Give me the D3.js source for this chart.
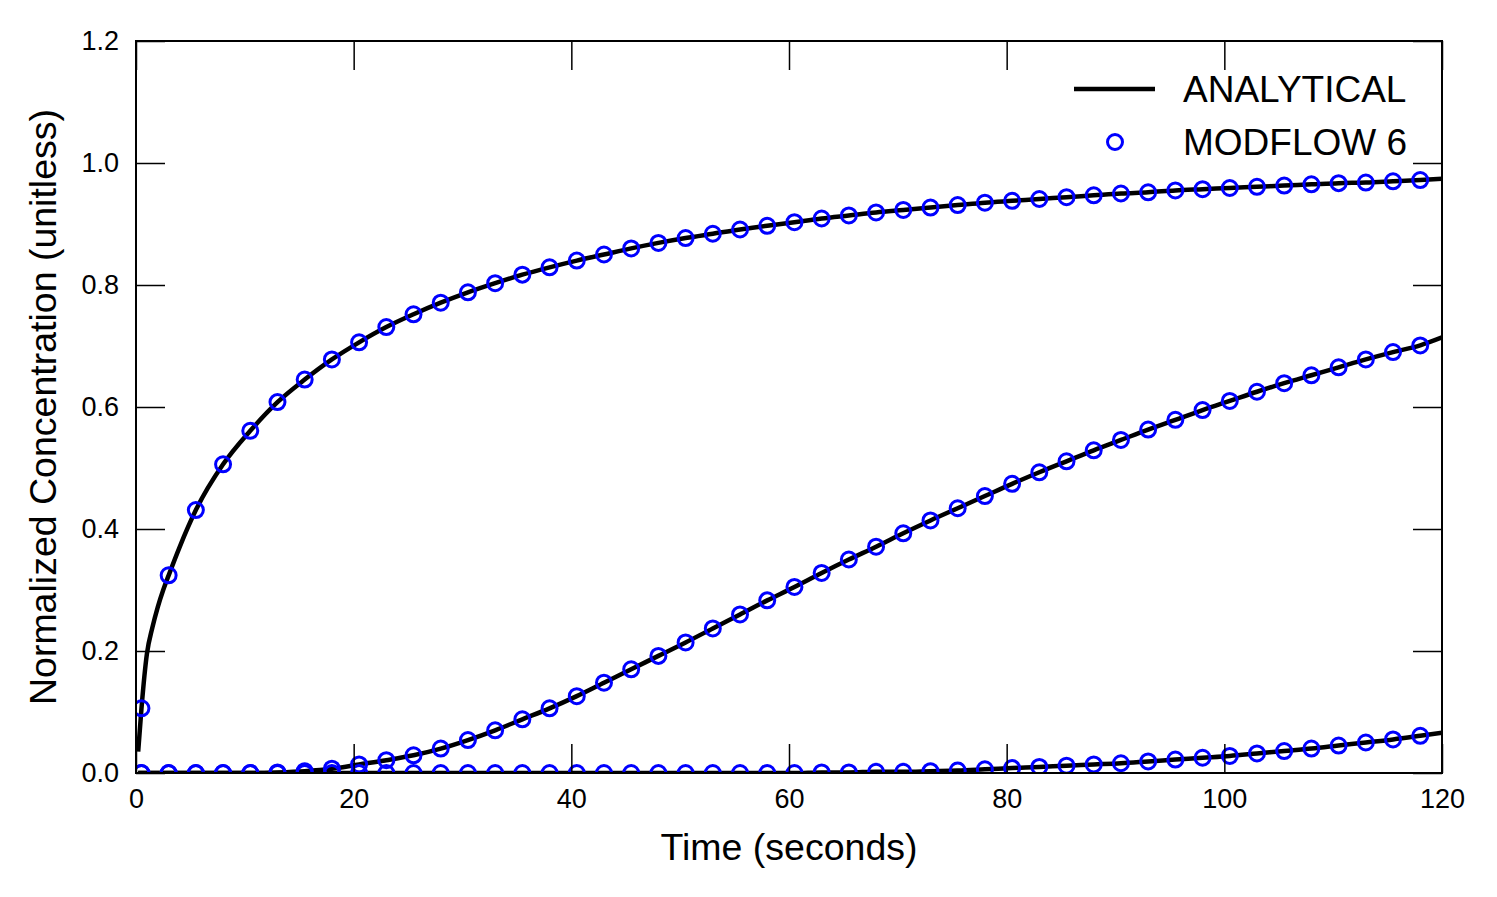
<!DOCTYPE html>
<html>
<head>
<meta charset="utf-8">
<script src="https://cdn.jsdelivr.net/npm/d3@7"></script>
<style>
  body { margin: 0; background: #fff; }
  svg { font-family: "Liberation Sans", Arial, sans-serif; }
</style>
</head>
<body>
<svg id="chart" width="1497" height="897"></svg>
<script>
// simulated output times (seconds)
var simTimes = [0.5, 3, 5.5, 8, 10.5, 13, 15.5, 18, 20.5, 23, 25.5, 28, 30.5, 33, 35.5, 38,
  40.5, 43, 45.5, 48, 50.5, 53, 55.5, 58, 60.5, 63, 65.5, 68, 70.5, 73, 75.5, 78,
  80.5, 83, 85.5, 88, 90.5, 93, 95.5, 98, 100.5, 103, 105.5, 108, 110.5, 113, 115.5, 118];

// MODFLOW 6 concentrations at three observation points
var sim1 = [0.106, 0.324, 0.431, 0.506, 0.561, 0.608, 0.645, 0.678, 0.706, 0.731, 0.752, 0.771,
  0.788, 0.803, 0.817, 0.829, 0.840, 0.850, 0.860, 0.869, 0.877, 0.884, 0.891, 0.897,
  0.903, 0.909, 0.914, 0.919, 0.923, 0.927, 0.931, 0.935, 0.938, 0.941, 0.944, 0.947,
  0.950, 0.952, 0.955, 0.957, 0.959, 0.961, 0.963, 0.965, 0.967, 0.968, 0.970, 0.972];
var sim2 = [0, 0, 0, 0, 0, 0.001, 0.003, 0.007, 0.014, 0.021, 0.029, 0.040,
  0.054, 0.070, 0.088, 0.106, 0.126, 0.148, 0.170, 0.192, 0.214, 0.237, 0.260, 0.283,
  0.305, 0.328, 0.350, 0.371, 0.393, 0.414, 0.434, 0.454, 0.474, 0.493, 0.511, 0.529,
  0.546, 0.563, 0.579, 0.595, 0.610, 0.625, 0.639, 0.652, 0.665, 0.678, 0.690, 0.701];
var sim3 = [0, 0, 0, 0, 0, 0, 0, 0, 0, 0, 0, 0,
  0, 0, 0, 0, 0, 0, 0, 0, 0, 0, 0, 0,
  0, 0.001, 0.001, 0.002, 0.002, 0.003, 0.004, 0.006, 0.008, 0.010, 0.012, 0.014,
  0.016, 0.019, 0.022, 0.025, 0.028, 0.032, 0.036, 0.040, 0.045, 0.050, 0.055, 0.061];

// analytical solution
var anaTimes = [0.2, 0.5, 1, 1.5, 2, 2.5, 3, 4, 5.5, 8, 10.5, 13, 15.5, 18, 20.5, 23, 25.5, 28,
  30.5, 33, 35.5, 38, 40.5, 43, 45.5, 48, 50.5, 53, 55.5, 58, 60.5, 63, 65.5, 68, 70.5, 73,
  75.5, 78, 80.5, 83, 85.5, 88, 90.5, 93, 95.5, 98, 100.5, 103, 105.5, 108, 110.5, 113,
  115.5, 118, 120];
var ana1 = [0.035, 0.105, 0.195, 0.238, 0.272, 0.30, 0.324, 0.37, 0.431, 0.506, 0.561, 0.608,
  0.645, 0.678, 0.706, 0.731, 0.752, 0.771, 0.788, 0.803, 0.817, 0.829, 0.840, 0.850,
  0.860, 0.869, 0.877, 0.884, 0.891, 0.897, 0.903, 0.909, 0.914, 0.919, 0.923, 0.927,
  0.931, 0.935, 0.938, 0.941, 0.944, 0.947, 0.950, 0.952, 0.955, 0.957, 0.959, 0.961,
  0.963, 0.965, 0.967, 0.968, 0.970, 0.972, 0.974];
var ana2 = [0, 0, 0, 0, 0, 0, 0, 0, 0, 0, 0, 0.001,
  0.003, 0.007, 0.014, 0.021, 0.029, 0.040, 0.054, 0.070, 0.088, 0.106, 0.126, 0.148,
  0.170, 0.192, 0.214, 0.237, 0.260, 0.283, 0.305, 0.328, 0.350, 0.371, 0.393, 0.414,
  0.434, 0.454, 0.474, 0.493, 0.511, 0.529, 0.546, 0.563, 0.579, 0.595, 0.610, 0.625,
  0.639, 0.652, 0.665, 0.678, 0.690, 0.701, 0.714];
var ana3 = [0, 0, 0, 0, 0, 0, 0, 0, 0, 0, 0, 0,
  0, 0, 0, 0, 0, 0, 0, 0, 0, 0, 0, 0,
  0, 0, 0, 0, 0, 0, 0, 0.001, 0.001, 0.002, 0.002, 0.003,
  0.004, 0.006, 0.008, 0.010, 0.012, 0.014, 0.016, 0.019, 0.022, 0.025, 0.028, 0.032,
  0.036, 0.040, 0.045, 0.050, 0.055, 0.061, 0.066];

var xTicks = [0, 20, 40, 60, 80, 100, 120];
var yTicks = [0, 0.2, 0.4, 0.6, 0.8, 1.0, 1.2];
var legendLabels = ["ANALYTICAL", "MODFLOW 6"];

var svg = d3.select("#chart");
var plotL = 136, plotR = 1442, plotT = 41, plotB = 773;
var tickLen = 29;

var x = d3.scaleLinear().domain([0, 120]).range([plotL, plotR]);
var y = d3.scaleLinear().domain([0, 1.2]).range([plotB, plotT]);

svg.append("clipPath").attr("id", "plotclip")
  .append("rect").attr("x", plotL).attr("y", plotT)
  .attr("width", plotR - plotL).attr("height", plotB - plotT);

var plot = svg.append("g").attr("clip-path", "url(#plotclip)");

var line = d3.line()
  .x(function(d){ return x(d[0]); })
  .y(function(d){ return y(d[1]); })
  .curve(d3.curveMonotoneX);

[ana1, ana2, ana3].forEach(function(vals){
  plot.append("path")
    .datum(anaTimes.map(function(t, i){ return [t, vals[i]]; }))
    .attr("d", line)
    .attr("fill", "none")
    .attr("stroke", "#000")
    .attr("stroke-width", 4.5);
});

[sim1, sim2, sim3].forEach(function(vals){
  plot.selectAll(null)
    .data(simTimes.map(function(t, i){ return [t, vals[i]]; }))
    .enter().append("circle")
    .attr("cx", function(d){ return x(d[0]); })
    .attr("cy", function(d){ return y(d[1]); })
    .attr("r", 7.5)
    .attr("fill", "none")
    .attr("stroke", "#0000ff")
    .attr("stroke-width", 3);
});

// axes: ticks pointing inward on all four sides
function styleAxis(g){
  g.select(".domain").remove();
  g.selectAll(".tick line").attr("stroke", "#000").attr("stroke-width", 1.5);
  g.selectAll(".tick text").attr("fill", "#000")
    .style("font-family", '"Liberation Sans", Arial, sans-serif')
    .style("font-size", "27px");
}

svg.append("g").attr("transform", "translate(0," + plotB + ")")
  .call(d3.axisBottom(x).tickValues(xTicks).tickSize(-tickLen).tickPadding(16)
    .tickFormat(d3.format("d")))
  .call(styleAxis);
svg.append("g").attr("transform", "translate(0," + plotT + ")")
  .call(d3.axisTop(x).tickValues(xTicks).tickSize(-tickLen).tickFormat(""))
  .call(styleAxis);
svg.append("g").attr("transform", "translate(" + plotL + ",0)")
  .call(d3.axisLeft(y).tickValues(yTicks).tickSize(-tickLen).tickPadding(17)
    .tickFormat(d3.format(".1f")))
  .call(styleAxis);
svg.append("g").attr("transform", "translate(" + plotR + ",0)")
  .call(d3.axisRight(y).tickValues(yTicks).tickSize(-tickLen).tickFormat(""))
  .call(styleAxis);

svg.append("rect")
  .attr("x", plotL).attr("y", plotT)
  .attr("width", plotR - plotL).attr("height", plotB - plotT)
  .attr("fill", "none").attr("stroke", "#000").attr("stroke-width", 2);

// axis titles
svg.append("text")
  .attr("x", (plotL + plotR) / 2).attr("y", 860)
  .attr("text-anchor", "middle")
  .style("font-size", "37.5px")
  .text("Time (seconds)");
svg.append("text")
  .attr("transform", "translate(56," + (plotT + plotB) / 2 + ") rotate(-90)")
  .attr("text-anchor", "middle")
  .style("font-size", "37.5px")
  .text("Normalized Concentration (unitless)");

// legend
var lg = svg.append("g");
lg.append("line").attr("x1", 1074).attr("x2", 1155).attr("y1", 89).attr("y2", 89)
  .attr("stroke", "#000").attr("stroke-width", 4.5);
lg.append("circle").attr("cx", 1115).attr("cy", 142).attr("r", 7.5)
  .attr("fill", "none").attr("stroke", "#0000ff").attr("stroke-width", 3);
lg.selectAll("text.lab").data(legendLabels).enter().append("text")
  .attr("x", 1183)
  .attr("y", function(d, i){ return 102 + i * 53; })
  .style("font-size", "37px")
  .text(function(d){ return d; });
</script>
</body>
</html>
